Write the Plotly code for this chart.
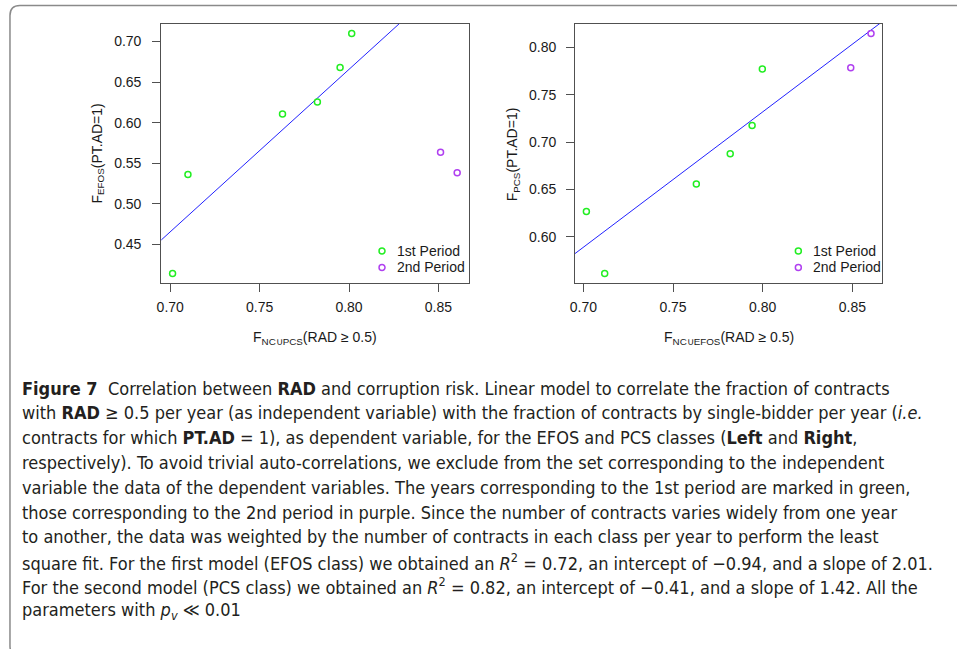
import plotly.graph_objects as go

W, H = 957, 649

# ---------------- data ----------------
left_x1 = [0.7013, 0.7099, 0.7628, 0.7823, 0.7950, 0.8015]
left_y1 = [0.414, 0.536, 0.6106, 0.6254, 0.668, 0.7098]
left_x2 = [0.8512, 0.8605]
left_y2 = [0.5635, 0.5382]
left_fit = [-0.9375, 2.004]  # intercept, slope

right_x1 = [0.7017, 0.7119, 0.7630, 0.7819, 0.7941, 0.7998]
right_y1 = [0.6267, 0.5614, 0.6558, 0.6877, 0.7175, 0.7772]
right_x2 = [0.8491, 0.8604]
right_y2 = [0.7786, 0.8147]
right_fit = [-0.412, 1.43]

left_xticks = [0.70, 0.75, 0.80, 0.85]
left_yticks = [0.45, 0.50, 0.55, 0.60, 0.65, 0.70]
right_xticks = [0.70, 0.75, 0.80, 0.85]
right_yticks = [0.60, 0.65, 0.70, 0.75, 0.80]

series_names = ["1st Period", "2nd Period"]
GREEN = "#22EE22"
PURPLE = "#B040F0"
BLUE = "#2222FF"

caption_lines = [
    "<b>Figure 7</b>  Correlation between <b>RAD</b> and corruption risk. Linear model to correlate the fraction of contracts",
    "with <b>RAD</b> ≥ 0.5 per year (as independent variable) with the fraction of contracts by single-bidder per year (<i>i.e.</i>",
    "contracts for which <b>PT.AD</b> = 1), as dependent variable, for the EFOS and PCS classes (<b>Left</b> and <b>Right</b>,",
    "respectively). To avoid trivial auto-correlations, we exclude from the set corresponding to the independent",
    "variable the data of the dependent variables. The years corresponding to the 1st period are marked in green,",
    "those corresponding to the 2nd period in purple. Since the number of contracts varies widely from one year",
    "to another, the data was weighted by the number of contracts in each class per year to perform the least",
    "square fit. For the first model (EFOS class) we obtained an <i>R</i><sup>2</sup> = 0.72, an intercept of −0.94, and a slope of 2.01.",
    "For the second model (PCS class) we obtained an <i>R</i><sup>2</sup> = 0.82, an intercept of −0.41, and a slope of 1.42. All the",
    "parameters with <i>p<sub>v</sub></i> ≪ 0.01",
]


def rrange(vals):
    lo, hi = min(vals), max(vals)
    d = (hi - lo) * 0.04
    return [lo - d, hi + d]


def px(x):
    return x / W


def py(y):
    return 1 - y / H


PF = "Liberation Sans, Arial, sans-serif"
TXT = "#1a1a1a"

fig = go.Figure()

panels = [
    dict(x1=left_x1, y1=left_y1, x2=left_x2, y2=left_y2, fit=left_fit,
         xt=left_xticks, yt=left_yticks, xa="x", ya="y", leg=(379, 392)),
    dict(x1=right_x1, y1=right_y1, x2=right_x2, y2=right_y2, fit=right_fit,
         xt=right_xticks, yt=right_yticks, xa="x2", ya="y2", leg=(797.5, 810)),
]

for i, p in enumerate(panels):
    xr = rrange(p["x1"] + p["x2"])
    yr = rrange(p["y1"] + p["y2"])
    p["xr"], p["yr"] = xr, yr
    b, m = p["fit"]
    fig.add_trace(go.Scatter(x=xr, y=[b + m * xr[0], b + m * xr[1]], mode="lines",
                             line=dict(color=BLUE, width=1), xaxis=p["xa"], yaxis=p["ya"],
                             showlegend=False, hoverinfo="skip"))
    for xs, ys, col, name in [(p["x1"], p["y1"], GREEN, series_names[0]),
                              (p["x2"], p["y2"], PURPLE, series_names[1])]:
        fig.add_trace(go.Scatter(x=xs, y=ys, mode="markers", name=name,
                                 marker=dict(symbol="circle-open", size=6, color=col,
                                             line=dict(width=1.5, color=col)),
                                 xaxis=p["xa"], yaxis=p["ya"], showlegend=False))

ydom = [py(283), py(24)]
axcommon = dict(showgrid=False, zeroline=False, showline=True, mirror=True,
                linecolor="#505050", linewidth=1, ticks="outside", ticklen=8,
                tickcolor="#505050", tickwidth=1,
                tickfont=dict(family=PF, size=14, color=TXT))

fig.update_layout(
    width=W, height=H, margin=dict(l=0, r=0, t=0, b=0),
    paper_bgcolor="white", plot_bgcolor="white", showlegend=False,
    xaxis=dict(domain=[px(157), px(466)], range=panels[0]["xr"], tickvals=left_xticks,
               ticktext=[f"{v:.2f}" for v in left_xticks], anchor="y",
               ticklabelstandoff=3, **axcommon),
    yaxis=dict(domain=ydom, range=panels[0]["yr"], tickvals=left_yticks,
               ticktext=[f"{v:.2f}" for v in left_yticks], anchor="x",
               ticklabelstandoff=8, **axcommon),
    xaxis2=dict(domain=[px(573), px(882)], range=panels[1]["xr"], tickvals=right_xticks,
                ticktext=[f"{v:.2f}" for v in right_xticks], anchor="y2",
                ticklabelstandoff=3, **axcommon),
    yaxis2=dict(domain=ydom, range=panels[1]["yr"], tickvals=right_yticks,
                ticktext=[f"{v:.2f}" for v in right_yticks], anchor="x2",
                ticklabelstandoff=7, **axcommon),
)

annots = []
tf = dict(family=PF, size=14, color=TXT)
# axis titles
for x, y, text, ang in [(311.5, 338, "F<sub>NC∪PCS</sub>(RAD ≥ 0.5)", 0),
                        (727.5, 338, "F<sub>NC∪EFOS</sub>(RAD ≥ 0.5)", 0),
                        (93, 154, "F<sub>EFOS</sub>(PT.AD=1)", -90),
                        (511, 154, "F<sub>PCS</sub>(PT.AD=1)", -90)]:
    annots.append(dict(x=px(x), y=py(y), xref="paper", yref="paper", showarrow=False,
                       xanchor="center", yanchor="middle", text=text, textangle=ang, font=tf))

# legends (manual, R style)
for p in panels:
    cx, tx = p["leg"]
    for k, (name, col) in enumerate(zip(series_names, [GREEN, PURPLE])):
        yy = 251 + 16.5 * k
        annots.append(dict(x=px(tx), y=py(yy), xref="paper", yref="paper", showarrow=False,
                           xanchor="left", yanchor="middle", text=name, font=tf))
        fig.add_shape(type="circle", xref="paper", yref="paper",
                      x0=px(cx - 3), x1=px(cx + 3), y0=py(yy + 3), y1=py(yy - 3),
                      line=dict(color=col, width=1.5))

# caption
CF = "Liberation Sans Narrow, DejaVu Sans Condensed, Liberation Sans, sans-serif"
for k, line in enumerate(caption_lines):
    annots.append(dict(x=px(15), y=py(388 + 24.8 * k), xref="paper", yref="paper",
                       xanchor="left", yanchor="middle", showarrow=False, align="left",
                       text=line, font=dict(family=CF, size=18, color="#231f20")))
fig.update_layout(annotations=annots)

# rounded frame
FX = 5
pts = [(980, 5.5), (FX + 10, 5.5), (FX, 5.5), (FX, 15.5), (FX, 646), (FX, 656), (FX + 10, 656), (980, 656)]
P = [(px(a), py(b)) for a, b in pts]
path = (f"M {P[0][0]},{P[0][1]} L {P[1][0]},{P[1][1]} Q {P[2][0]},{P[2][1]} {P[3][0]},{P[3][1]} "
        f"L {P[4][0]},{P[4][1]} Q {P[5][0]},{P[5][1]} {P[6][0]},{P[6][1]} L {P[7][0]},{P[7][1]}")
fig.add_shape(type="path", path=path, xref="paper", yref="paper",
              line=dict(color="#8a8a8a", width=1.5))

fig.write_html("out.html")
